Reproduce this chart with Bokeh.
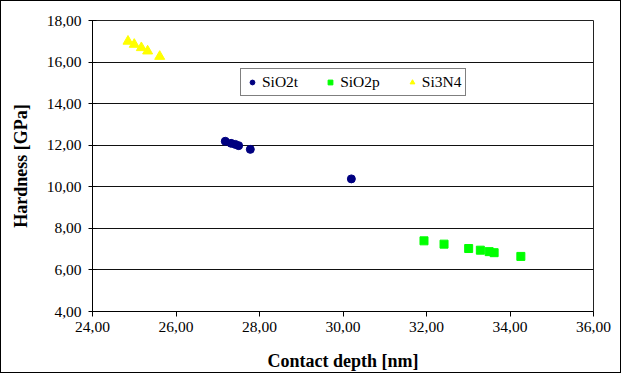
from bokeh.plotting import figure
from bokeh.models import FixedTicker, Legend, LegendItem
from bokeh.embed import file_html
from bokeh.resources import INLINE

# Data
sio2t_x = [27.18, 27.32, 27.42, 27.50, 27.78, 30.20]
sio2t_y = [12.19, 12.09, 12.04, 11.98, 11.80, 10.38]
sio2p_x = [31.94, 32.42, 33.01, 33.29, 33.50, 33.62, 34.26]
sio2p_y = [7.40, 7.24, 7.03, 6.95, 6.88, 6.83, 6.65]
si3n4_x = [24.85, 25.00, 25.17, 25.32, 25.61]
si3n4_y = [17.00, 16.85, 16.69, 16.53, 16.27]

x_ticks = [24, 26, 28, 30, 32, 34, 36]
y_ticks = [4, 6, 8, 10, 12, 14, 16, 18]
x_labels = ["24,00", "26,00", "28,00", "30,00", "32,00", "34,00", "36,00"]
y_labels = ["4,00", "6,00", "8,00", "10,00", "12,00", "14,00", "16,00", "18,00"]

FONT = "Liberation Serif"

p = figure(width=621, height=373, output_backend="svg", toolbar_location=None,
           x_range=(24, 36), y_range=(4, 18),
           min_border_left=91, min_border_right=29, min_border_top=19, min_border_bottom=63)
p.styles = {"border": "1px solid black"}

p.outline_line_color = "#222222"
p.outline_line_width = 1

p.xgrid.visible = False
p.ygrid.grid_line_color = "#111111"
p.ygrid.grid_line_width = 1

p.xaxis.ticker = FixedTicker(ticks=x_ticks)
p.yaxis.ticker = FixedTicker(ticks=y_ticks)
p.xaxis.major_label_overrides = dict(zip(x_ticks, x_labels))
p.yaxis.major_label_overrides = dict(zip(y_ticks, y_labels))

for ax in (p.xaxis[0], p.yaxis[0]):
    ax.axis_line_color = "black"
    ax.axis_line_width = 1
    ax.major_tick_line_color = "black"
    ax.minor_tick_line_color = None
    ax.major_label_text_font = FONT
    ax.major_label_text_font_size = "15.5px"
    ax.major_label_text_color = "black"
    ax.axis_label_text_font = FONT
    ax.axis_label_text_font_style = "bold"
    ax.axis_label_text_font_size = "18px"
    ax.axis_label_text_color = "black"

p.xaxis.major_tick_in = 0
p.xaxis.major_tick_out = 5
p.yaxis.major_tick_in = 4
p.yaxis.major_tick_out = 4
p.xaxis.major_label_standoff = 5
p.yaxis.major_label_standoff = 7
p.xaxis.axis_label = "Contact depth [nm]"
p.yaxis.axis_label = "Hardness [GPa]"
p.xaxis.axis_label_standoff = 16
p.yaxis.axis_label_standoff = 13

r1 = p.scatter(sio2t_x, sio2t_y, marker="circle", size=8, fill_color="#000080", line_color="#000080")
r2 = p.scatter(sio2p_x, sio2p_y, marker="square", size=8, fill_color="#00FF00", line_color="#00FF00")
r3 = p.scatter(si3n4_x, si3n4_y, marker="triangle", size=10, fill_color="#FFFF00", line_color="#FFFF00")

legend = Legend(items=[LegendItem(label="SiO2t", renderers=[r1]),
                       LegendItem(label="SiO2p", renderers=[r2]),
                       LegendItem(label="Si3N4", renderers=[r3])],
                orientation="horizontal", location=(148, 215))
legend.label_text_font = FONT
legend.label_text_font_size = "15.5px"
legend.label_text_color = "black"
legend.border_line_color = "black"
legend.border_line_width = 1
legend.glyph_width = 14
legend.glyph_height = 12
legend.label_standoff = 3
legend.spacing = 25
legend.padding = 4
legend.margin = 0
legend.label_height = 14
p.add_layout(legend)

open("out.html", "w").write(file_html(p, INLINE))
